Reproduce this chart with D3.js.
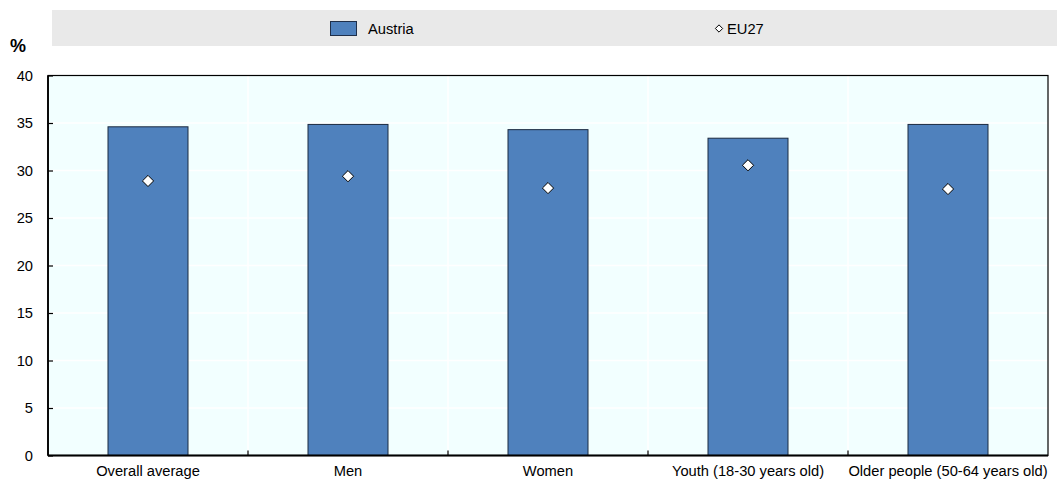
<!DOCTYPE html>
<html><head><meta charset="utf-8">
<script src="https://cdn.jsdelivr.net/npm/d3@7"></script>
<style>body{margin:0;background:#fff;} text{font-family:"Liberation Sans",Arial,sans-serif;}</style>
</head><body>
<svg id="c" width="1057" height="482"></svg>
<script>
const categories = ["Overall average","Men","Women","Youth (18-30 years old)","Older people (50-64 years old)"];
const austria = [34.6, 34.85, 34.3, 33.4, 34.85];
const eu27 = [28.9, 29.4, 28.15, 30.55, 28.05];
const yTicks = [0,5,10,15,20,25,30,35,40];

const svg = d3.select("#c");
const L = 48, R = 1048, T = 75.5, B = 455.5;
const x = d3.scaleBand().domain(categories).range([L, R]).paddingInner(0).paddingOuter(0);
const y = d3.scaleLinear().domain([0, 40]).range([B, T]);
const FS = 14.7;

// legend
svg.append("rect").attr("x", 52).attr("y", 10).attr("width", 1005).attr("height", 36).attr("fill", "#e9e9e9");
svg.append("rect").attr("x", 330.5).attr("y", 21.5).attr("width", 26).attr("height", 14).attr("fill", "#4f81bd").attr("stroke", "#1f2f4a");
svg.append("text").attr("x", 368).attr("y", 34).attr("font-size", FS).text("Austria");
svg.append("path").attr("d", d3.symbol(d3.symbolDiamond2, 34)()).attr("transform", "translate(719,28.5)").attr("fill", "#fff").attr("stroke", "#000").attr("stroke-width", 1);
svg.append("text").attr("x", 727).attr("y", 34).attr("font-size", FS).text("EU27");

svg.append("text").attr("x", 10).attr("y", 52).attr("font-size", 18).attr("font-weight", "bold").text("%");

// plot background
svg.append("rect").attr("x", L).attr("y", T).attr("width", R - L).attr("height", B - T).attr("fill", "#f2ffff");
// gridlines
svg.append("g").selectAll("line").data(yTicks.slice(1, -1)).join("line")
  .attr("x1", L).attr("x2", R).attr("y1", d => y(d)).attr("y2", d => y(d))
  .attr("stroke", "#fff").attr("stroke-width", 1.5);
svg.append("g").selectAll("line").data(categories.slice(1)).join("line")
  .attr("x1", d => x(d)).attr("x2", d => x(d)).attr("y1", T).attr("y2", B)
  .attr("stroke", "#fff").attr("stroke-width", 1.5);

// bars
const bw = 80;
svg.append("g").selectAll("rect").data(categories).join("rect")
  .attr("x", (d) => x(d) + x.bandwidth() / 2 - bw / 2)
  .attr("y", (d, i) => y(austria[i]))
  .attr("width", bw)
  .attr("height", (d, i) => B - y(austria[i]))
  .attr("fill", "#4f81bd").attr("stroke", "#1b2a40").attr("stroke-width", 1);

// diamonds
svg.append("g").selectAll("path").data(categories).join("path")
  .attr("d", d3.symbol(d3.symbolDiamond2, 80)())
  .attr("transform", (d, i) => `translate(${x(d) + x.bandwidth() / 2},${y(eu27[i])})`)
  .attr("fill", "#fff").attr("stroke", "#000").attr("stroke-width", 1);

// frame
svg.append("rect").attr("x", L).attr("y", T).attr("width", R - L).attr("height", B - T)
  .attr("fill", "none").attr("stroke", "#000").attr("stroke-width", 1.2);
svg.append("line").attr("x1", L).attr("x2", R).attr("y1", B).attr("y2", B).attr("stroke", "#000").attr("stroke-width", 1.8);
svg.append("line").attr("x1", L).attr("x2", L).attr("y1", T).attr("y2", B).attr("stroke", "#000").attr("stroke-width", 1.8);

// y axis
const yAxis = d3.axisLeft(y).tickValues(yTicks).tickSizeInner(-5).tickSizeOuter(0).tickPadding(15);
const gy = svg.append("g").attr("transform", `translate(${L},0)`).call(yAxis);
gy.select(".domain").remove();
gy.selectAll("line").attr("stroke", "#000").attr("stroke-width", 1.2);
gy.selectAll("text").attr("font-size", FS).attr("fill", "#000").attr("font-family", "Liberation Sans, Arial, sans-serif");

// x axis
const xAxis = d3.axisBottom(x).tickSize(0).tickPadding(10);
const gx = svg.append("g").attr("transform", `translate(0,${B})`).call(xAxis);
gx.select(".domain").remove();
gx.selectAll("text").attr("font-size", FS).attr("fill", "#000").attr("font-family", "Liberation Sans, Arial, sans-serif");
svg.append("g").selectAll("line").data(categories.slice(1)).join("line")
  .attr("x1", d => x(d)).attr("x2", d => x(d)).attr("y1", B).attr("y2", B - 5)
  .attr("stroke", "#000").attr("stroke-width", 1.2);
</script>
</body></html>
